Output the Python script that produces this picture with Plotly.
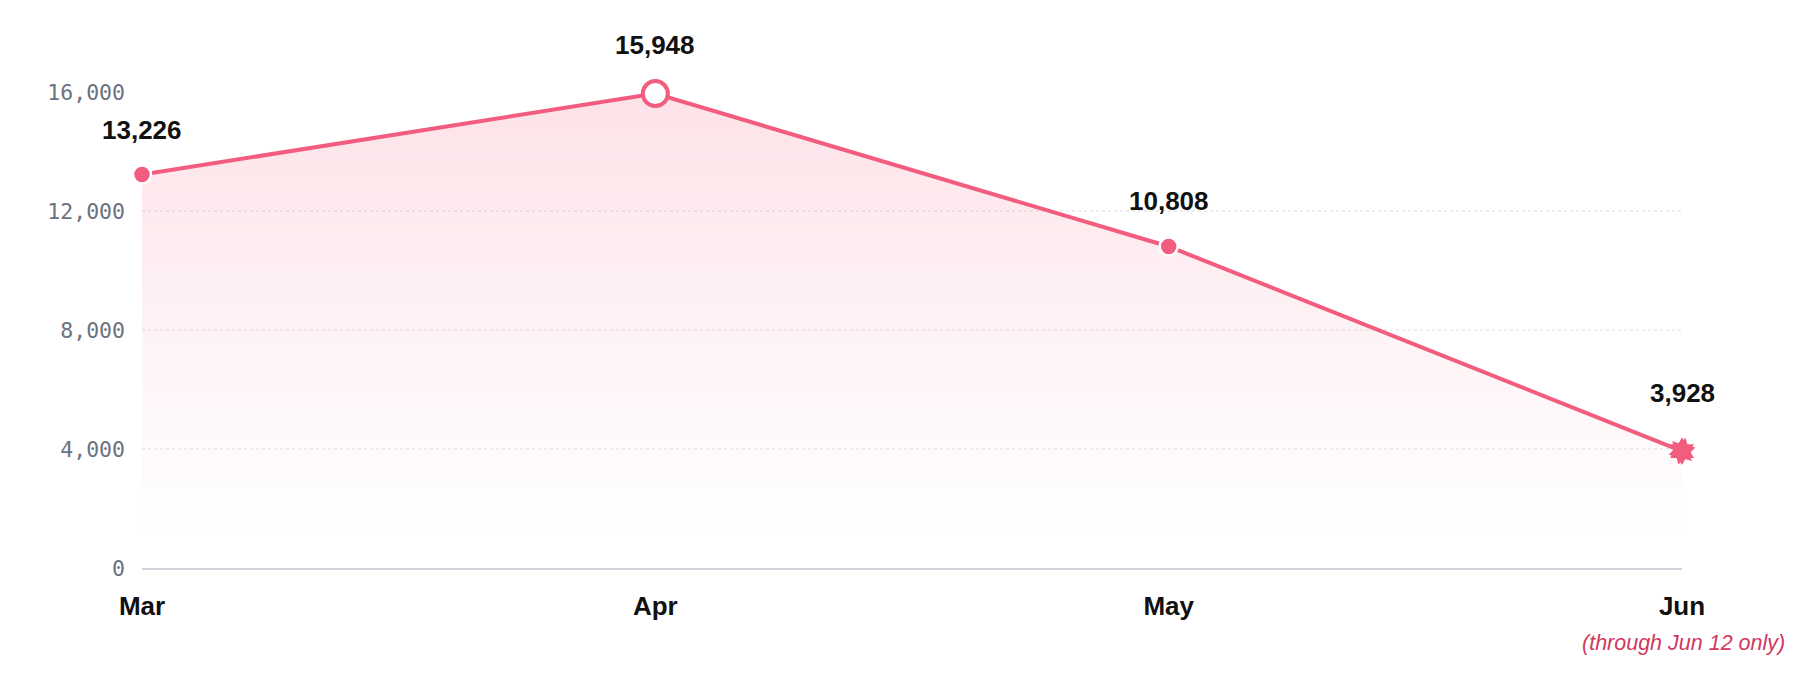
import plotly.graph_objects as go

# monthly totals
months = ["Mar", "Apr", "May", "Jun"]
totals = [13226, 15948, 10808, 3928]
y_ticks = [0, 4000, 8000, 12000, 16000]
y_tick_text = ["0", "4,000", "8,000", "12,000", "16,000"]
footnote = "(through Jun 12 only)"

# label lift above each point (px), style only
label_dy = [45, 49, 45, 58]

line_color = "#f25c7e"

fig = go.Figure()

# main line with gradient fill (translucent so the dotted grid shows through)
fig.add_trace(go.Scatter(
    x=months, y=totals, mode="lines", fill="tozeroy",
    line=dict(color=line_color, width=4),
    fillgradient=dict(type="vertical", start=0, stop=16000,
                      colorscale=[[0, "rgba(244,96,128,0)"], [0.06, "rgba(244,96,128,0)"],
                                  [0.45, "rgba(244,96,128,0.07)"], [1, "rgba(244,96,128,0.18)"]]),
    hoverinfo="skip", cliponaxis=False, showlegend=False))

# markers: filled for Mar/May, open for the peak, burst for partial Jun
fig.add_trace(go.Scatter(
    x=[months[0], months[2]], y=[totals[0], totals[2]], mode="markers",
    marker=dict(size=18, color=line_color, line=dict(color="white", width=2.5)),
    hoverinfo="skip", cliponaxis=False, showlegend=False))
fig.add_trace(go.Scatter(
    x=[months[1]], y=[totals[1]], mode="markers",
    marker=dict(size=25, color="white", line=dict(color=line_color, width=4)),
    hoverinfo="skip", cliponaxis=False, showlegend=False))
for ang in [0, 15]:
    fig.add_trace(go.Scatter(
        x=[months[3]], y=[totals[3]], mode="markers",
        marker=dict(size=21, symbol="hexagram", angle=ang, color=line_color, line=dict(width=0)),
        hoverinfo="skip", cliponaxis=False, showlegend=False))

# value labels
for m, v, dy in zip(months, totals, label_dy):
    fig.add_annotation(x=m, y=v, text=f"<b>{v:,}</b>", showarrow=False, yshift=dy,
                       font=dict(family="Liberation Sans, Arial", size=26, color="#111111"))

fig.add_annotation(xref="paper", yref="paper", x=1.068, y=-0.158, xanchor="right", yanchor="middle",
                   text=f"<i>{footnote}</i>", showarrow=False,
                   font=dict(family="Liberation Sans, Arial", size=21.5, color="#d2375e"))

fig.update_layout(
    width=1800, height=698,
    margin=dict(l=134, r=126, t=84, b=138),
    paper_bgcolor="white", plot_bgcolor="white",
    xaxis=dict(range=[0, 3], showgrid=False, showline=True, linecolor="#d1d5db", linewidth=2,
               ticks="", ticklabelstandoff=14, zeroline=False,
               tickfont=dict(family="Liberation Sans, Arial", size=26, color="#111111", weight="bold")),
    yaxis=dict(range=[0, 16000], tickvals=y_ticks, ticktext=y_tick_text,
               showgrid=True, gridcolor="#eceef1", griddash="dot", gridwidth=1.5,
               zeroline=False, showline=False, ticks="", ticklabelstandoff=16,
               tickfont=dict(family="DejaVu Sans Mono", size=21.5, color="#6b7280")),
)

fig.write_html("out.html")
